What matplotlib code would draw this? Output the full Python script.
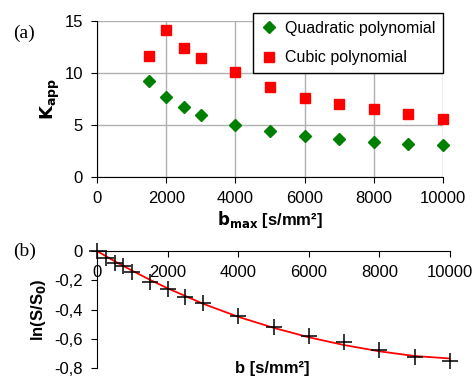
import matplotlib
matplotlib.use("Agg")
import matplotlib.pyplot as plt

plt.rcParams['font.family'] = ['Liberation Sans', 'DejaVu Sans']

# panel (a)
b_max = [1500, 2000, 2500, 3000, 4000, 5000, 6000, 7000, 8000, 9000, 10000]
k_quad = [9.22, 7.69, 6.77, 6.0, 5.04, 4.47, 3.99, 3.70, 3.35, 3.22, 3.06]
k_cub = [11.65, 14.1, 12.38, 11.49, 10.09, 8.68, 7.63, 6.99, 6.54, 6.06, 5.62]

# panel (b)
b_vals = [0, 250, 500, 750, 1000, 1500, 2000, 2500, 3000, 4000, 5000, 6000, 7000, 8000, 9000, 10000]
ln_s = [0.0, -0.048, -0.082, -0.104, -0.143, -0.211, -0.261, -0.313, -0.358, -0.444,
        -0.517, -0.578, -0.623, -0.680, -0.727, -0.750]
fit_b = [0, 500, 1000, 1500, 2000, 3000, 4000, 5000, 6000, 7000, 8000, 9000, 10000]
fit_y = [0.0, -0.07, -0.135, -0.197, -0.255, -0.36, -0.45, -0.525, -0.59, -0.643, -0.686, -0.718, -0.735]

fig = plt.figure(figsize=(4.74, 3.77), dpi=100)

# --- (a)
ax1 = fig.add_axes([97/474, 1-177/377, (443-97)/474, (177-21)/377])
ax1.plot(b_max, k_quad, 'D', color='#008000', markersize=6.5, label='Quadratic polynomial', clip_on=False)
ax1.plot(b_max, k_cub, 's', color='#ff0000', markersize=7, label='Cubic polynomial', clip_on=False)
ax1.set_xlim(0, 10000)
ax1.set_ylim(0, 15)
ax1.set_xticks(range(0, 10001, 2000))
ax1.set_yticks([0, 5, 10, 15])
ax1.grid(True, color='#b0b0b0', linewidth=1)
ax1.set_axisbelow(True)
for s in ['top', 'right']:
    ax1.spines[s].set_visible(False)
ax1.tick_params(labelsize=12, length=4, pad=6)
ax1.set_xlabel(r'$\mathbf{b_{max}}$ [s/mm²]', fontsize=12, fontweight='bold', labelpad=2)
ax1.set_ylabel(r'$\mathbf{K_{app}}$', fontsize=13, fontweight='bold')
ax1.yaxis.set_label_coords(-0.101, 0.5)
leg = ax1.legend(loc='upper right', bbox_to_anchor=(1.0, 1.051), fontsize=11.5, frameon=True,
                 fancybox=False, edgecolor='black', framealpha=1, handlelength=1.0,
                 handletextpad=0.5, borderpad=0.5, labelspacing=0.9, borderaxespad=0)
leg.get_frame().set_linewidth(1)
fig.text(13/474, 1-33/377, '(a)', fontsize=14, family='Liberation Serif', va='center')

# --- (b)
ax2 = fig.add_axes([97/474, 1-368/377, (450-97)/474, (368-251)/377])
ax2.plot(fit_b, fit_y, '-', color='#ff0000', linewidth=1.3)
ax2.plot(b_vals, ln_s, '+', color='black', markersize=11, markeredgewidth=1.1, clip_on=False)
ax2.set_xlim(0, 10000)
ax2.set_ylim(-0.8, 0)
ax2.set_xticks(range(0, 10001, 2000))
ax2.set_yticks([0, -0.2, -0.4, -0.6, -0.8])
ax2.set_yticklabels(['0', '-0,2', '-0,4', '-0,6', '-0,8'])
ax2.spines['bottom'].set_position(('data', 0))
for s in ['top', 'right']:
    ax2.spines[s].set_visible(False)
ax2.tick_params(labelsize=12, length=4, pad=6)
ax2.set_ylabel(r'ln(S/S$_\mathbf{0}$)', fontsize=12, fontweight='bold')
ax2.yaxis.set_label_coords(-0.139, 0.5)
fig.text(272/474, 1/377, 'b [s/mm²]', fontsize=12, fontweight='bold', ha='center', va='bottom')
fig.text(13/474, 1-251/377, '(b)', fontsize=14, family='Liberation Serif', va='center')

fig.savefig('out.png', dpi=100)
